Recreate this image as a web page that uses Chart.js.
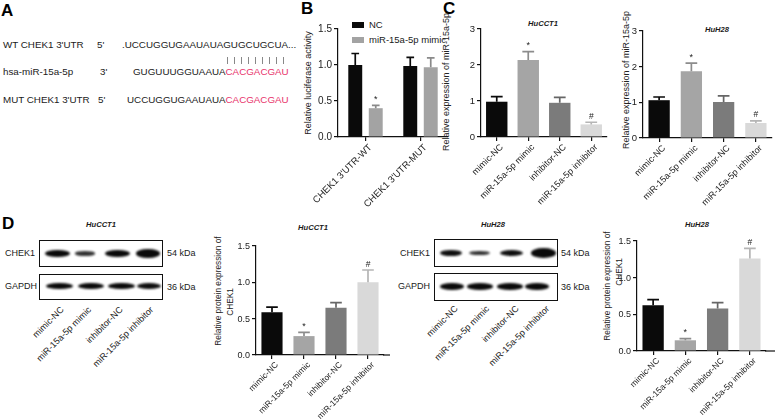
<!DOCTYPE html>
<html><head><meta charset="utf-8">
<script src="https://cdn.jsdelivr.net/npm/chart.js@4.4.1/dist/chart.umd.min.js"></script>
<style>
html,body{margin:0;padding:0;background:#fff;}
body{width:780px;height:420px;position:relative;overflow:hidden;font-family:"Liberation Sans",Arial,Helvetica,sans-serif;color:#1a1a1a;}
.t{position:absolute;white-space:nowrap;line-height:1;}
.a{font-size:9.8px;}
.panel{font-weight:bold;font-size:17px;color:#000;}
.ttl{font-weight:bold;font-style:italic;font-size:7.6px;transform:translateX(-50%);}
.cv{position:absolute;}
.cv canvas{display:block;}
.red{color:#e8336b;}
.box{position:absolute;border:1.5px solid #111;box-sizing:border-box;background:#fff;}
.band{position:absolute;background:#0a0a0a;border-radius:50%;filter:blur(0.8px);}
.lane{position:absolute;font-size:9px;white-space:nowrap;line-height:1;transform-origin:100% 50%;transform:rotate(-45deg);color:#222;}
.vl{position:absolute;width:1px;background:#888;}
.lg{position:absolute;}
.yt{position:absolute;white-space:nowrap;line-height:1;color:#222;transform:translate(-50%,-50%) rotate(-90deg);}
.ytk{position:absolute;z-index:10;white-space:nowrap;line-height:12px;height:12px;width:30px;text-align:right;color:#222;}
</style></head><body>
<script>
// ---------------- DATA ----------------
const lucCategories = ["CHEK1 3'UTR-WT", "CHEK1 3'UTR-MUT"];
const lucSeriesNames = ["NC", "miR-15a-5p mimic"];
const lucNC = [1.00, 0.985];
const lucNCErr = [0.16, 0.12];
const lucMimic = [0.40, 0.97];
const lucMimicErr = [0.04, 0.13];
const lucMimicMarks = ["*", ""];

const groups = ["mimic-NC", "miR-15a-5p mimic", "inhibitor-NC", "miR-15a-5p inhibitor"];
const miRHuCCT1 = [0.98, 2.14, 0.95, 0.35];
const miRHuCCT1Err = [0.14, 0.23, 0.15, 0.06];
const miRHuH28 = [1.06, 1.87, 1.01, 0.42];
const miRHuH28Err = [0.09, 0.23, 0.17, 0.06];
const protHuCCT1 = [0.59, 0.26, 0.65, 1.00];
const protHuCCT1Err = [0.07, 0.05, 0.07, 0.17];
const protHuH28 = [0.625, 0.146, 0.58, 1.26];
const protHuH28Err = [0.075, 0.024, 0.08, 0.14];
const groupMarks = ["", "*", "", "#"];

const ticks15 = [0, 0.5, 1.0, 1.5];
const ticks15Labels = ["0.0", "0.5", "1.0", "1.5"];
const ticks3 = [0, 1, 2, 3];
const ticks3Labels = ["0", "1", "2", "3"];

// relative band strengths of the blots (lane order = groups)
const blotHuCCT1_CHEK1 = [1.0, 0.6, 1.0, 1.15];
const blotHuCCT1_GAPDH = [1.0, 1.0, 1.0, 0.95];
const blotHuH28_CHEK1 = [0.95, 0.62, 0.95, 1.55];
const blotHuH28_GAPDH = [1.0, 1.0, 1.0, 1.0];
</script>

<!-- Panel A -->
<div class="t panel" style="left:1px;top:2px;">A</div>
<div class="t a" style="left:3px;top:40px;">WT CHEK1 3'UTR</div>
<div class="t a" style="left:97px;top:40px;">5'</div>
<div class="t a" style="left:122px;top:40px;">.UCCUGGUGAAUAUAGUGCUGCUA...</div>
<div class="t a" style="left:3px;top:67px;">hsa-miR-15a-5p</div>
<div class="t a" style="left:100px;top:67px;">3'</div>
<div class="t a" style="left:133px;top:67px;">GUGUUUGGUAAUA<span class="red">CACGACGAU</span></div>
<div class="t a" style="left:3px;top:95px;">MUT CHEK1 3'UTR</div>
<div class="t a" style="left:98px;top:95px;">5'</div>
<div class="t a" style="left:127px;top:95px;">UCCUGGUGAAUAUA<span class="red">CACGACGAU</span></div>
<div id="pairs"></div>

<div class="t panel" style="left:301px;top:0px;">B</div>
<div class="t panel" style="left:443px;top:0px;">C</div>
<div class="t panel" style="left:2px;top:215px;">D</div>

<!-- legend B -->
<div class="lg" style="left:352px;top:22px;width:12px;height:6px;background:#0a0a0a;"></div>
<div class="t" style="left:369px;top:20px;font-size:9.5px;">NC</div>
<div class="lg" style="left:352px;top:37px;width:12px;height:6px;background:#a3a3a3;"></div>
<div class="t" style="left:369px;top:35px;font-size:9.5px;">miR-15a-5p mimic</div>

<!-- titles -->
<div class="t ttl" style="left:543px;top:20px;">HuCCT1</div>
<div class="t ttl" style="left:717px;top:26px;">HuH28</div>
<div class="t ttl" style="left:101px;top:221px;">HuCCT1</div>
<div class="t ttl" style="left:313px;top:224px;">HuCCT1</div>
<div class="t ttl" style="left:493px;top:221px;">HuH28</div>
<div class="t ttl" style="left:697px;top:221px;">HuH28</div>

<!-- y-axis titles -->
<div class="yt" style="left:308px;top:83px;font-size:9px;">Relative luciferase activity</div>
<div class="yt" style="left:446px;top:82px;font-size:9px;">Relative expression of miR-15a-5p</div>
<div class="yt" style="left:626px;top:80px;font-size:9px;">Relative expression of miR-15a-5p</div>
<div class="yt" style="left:218px;top:291px;font-size:8.3px;">Relative protein expression of</div>
<div class="yt" style="left:229.5px;top:302px;font-size:8.3px;">CHEK1</div>
<div class="yt" style="left:607px;top:286px;font-size:8.3px;">Relative protein expression of</div>
<div class="yt" style="left:618.5px;top:272px;font-size:8.3px;">CHEK1</div>

<!-- blot labels -->
<div class="t" style="left:5px;top:249px;font-size:9px;">CHEK1</div>
<div class="t" style="left:5px;top:282px;font-size:9px;">GAPDH</div>
<div class="t" style="left:167px;top:249px;font-size:9px;">54 kDa</div>
<div class="t" style="left:167px;top:283px;font-size:9px;">36 kDa</div>
<div class="t" style="right:350px;top:249px;font-size:9px;">CHEK1</div>
<div class="t" style="right:350px;top:282px;font-size:9px;">GAPDH</div>
<div class="t" style="left:561px;top:249px;font-size:9px;">54 kDa</div>
<div class="t" style="left:561px;top:283px;font-size:9px;">36 kDa</div>

<script>
const F = '"Liberation Sans", Arial, Helvetica, sans-serif';

// base-pairing ticks in panel A
(function(){
  const p = document.getElementById('pairs');
  for (let i = 0; i < 9; i++) {
    const d = document.createElement('div');
    d.className = 'vl';
    d.style.left = (226.5 + i * 7.1) + 'px';
    d.style.top = '57px'; d.style.height = '7px';
    p.appendChild(d);
  }
})();

// blots
function blot(boxLeft, boxRight, rows, lanes, anchors, anchorY) {
  rows.forEach(r => {
    const b = document.createElement('div');
    b.className = 'box';
    b.style.left = boxLeft + 'px'; b.style.top = r.top + 'px';
    b.style.width = (boxRight - boxLeft) + 'px'; b.style.height = (r.bottom - r.top) + 'px';
    document.body.appendChild(b);
    r.strength.forEach((s, i) => {
      const w = r.w[i] * Math.min(1.08, 0.78 + 0.22 * s), h = r.h * s;
      const d = document.createElement('div');
      d.className = 'band';
      d.style.left = (r.cx[i] - w / 2) + 'px';
      d.style.top = (r.cy - h / 2) + 'px';
      d.style.width = w + 'px'; d.style.height = h + 'px';
      d.style.opacity = Math.min(1, 0.6 + 0.4 * s);
      document.body.appendChild(d);
    });
  });
  lanes.forEach((txt, i) => {
    const l = document.createElement('div');
    l.className = 'lane';
    l.textContent = txt;
    l.style.right = (780 - anchors[i]) + 'px';
    l.style.top = (anchorY - 4.5) + 'px';
    document.body.appendChild(l);
  });
}
blot(39, 163, [
  {top: 240, bottom: 267, cy: 253.5, h: 7, cx: [57.5, 85, 117.5, 148], w: [25, 22, 25, 23], strength: blotHuCCT1_CHEK1},
  {top: 274, bottom: 300, cy: 286, h: 6.5, cx: [59, 90.5, 121, 149], w: [27, 26, 27, 24], strength: blotHuCCT1_GAPDH}
], groups, [62, 90, 122, 152], 308);
blot(434, 558, [
  {top: 239, bottom: 267, cy: 253, h: 6.5, cx: [451, 479.5, 511.5, 543.5], w: [23, 22, 24, 24], strength: blotHuH28_CHEK1},
  {top: 273, bottom: 301, cy: 286.5, h: 6.5, cx: [451.5, 479.5, 509.5, 536.5], w: [24, 26, 26, 24], strength: blotHuH28_GAPDH}
], groups, [456, 488, 518, 548], 307);

// ---------------- charts ----------------
function makeAxisExt(ext) {
  return {
    id: 'axisExt',
    afterDraw(chart) {
      if (!ext) return;
      const ctx = chart.ctx, a = chart.chartArea;
      ctx.save();
      ctx.strokeStyle = '#111'; ctx.lineWidth = 1.2;
      ctx.beginPath();
      ctx.moveTo(a.right - 1, a.bottom); ctx.lineTo(a.right + ext, a.bottom);
      ctx.stroke();
      ctx.restore();
    }
  };
}
const errBars = {
  id: 'errbars',
  afterDatasetsDraw(chart) {
    const {ctx, scales: {y}} = chart;
    chart.data.datasets.forEach((ds, i) => {
      const meta = chart.getDatasetMeta(i);
      meta.data.forEach((bar, j) => {
        const top = y.getPixelForValue(ds.data[j] + ds.errs[j]);
        const col = Array.isArray(ds.errColor) ? ds.errColor[j] : ds.errColor;
        const w = bar.width * 0.55;
        ctx.save();
        ctx.strokeStyle = col; ctx.lineWidth = 1.7;
        ctx.beginPath();
        ctx.moveTo(bar.x, bar.y); ctx.lineTo(bar.x, top);
        ctx.moveTo(bar.x - w / 2, top); ctx.lineTo(bar.x + w / 2, top);
        ctx.stroke();
        const m = ds.marks && ds.marks[j];
        if (m) {
          ctx.fillStyle = '#222';
          ctx.font = (m === '#' ? '8.5px ' : '9px ') + F;
          ctx.textAlign = 'center'; ctx.textBaseline = 'bottom';
          ctx.fillText(m, bar.x, top - 1.5);
        }
        ctx.restore();
      });
    });
  }
};

const built = [];
function makeChart(s) {
  const cLeft = s.plotLeft - 60;
  const rightPad = Math.max(s.ext + 3, 4);
  const W = Math.round(s.plotRight + rightPad - cLeft);
  const H = s.bottom - s.top;
  const div = document.createElement('div');
  div.className = 'cv';
  div.style.left = cLeft + 'px'; div.style.top = s.top + 'px';
  div.style.width = W + 'px'; div.style.height = H + 'px';
  const cv = document.createElement('canvas');
  cv.width = W; cv.height = H; cv.style.width = W + 'px'; cv.style.height = H + 'px';
  div.appendChild(cv); document.body.appendChild(div);
  const yW = s.plotLeft - cLeft, xH = s.bottom - s.plotBottom;
  const tv = s.ticks;
  const yMax = tv[tv.length - 1];
  let chart = null;
  try {
    chart = new Chart(cv, {
      type: 'bar',
      data: {
        labels: s.labels,
        datasets: s.datasets.map(d => ({
          label: d.label, data: d.values, errs: d.errs, marks: d.marks,
          backgroundColor: d.colors, errColor: d.errColors, borderWidth: 0,
          categoryPercentage: s.cat, barPercentage: s.bar
        }))
      },
      options: {
        responsive: false, animation: false, devicePixelRatio: 1,
        layout: {padding: {left: 0, top: s.plotTop - s.top, right: W - (s.plotRight - cLeft), bottom: 0}},
        plugins: {legend: {display: false}, tooltip: {enabled: false}},
        scales: {
          x: {
            grid: {display: true, drawOnChartArea: false, drawTicks: true, tickLength: 4, offset: false, color: '#111', lineWidth: 1.2},
            border: {display: true, color: '#111', width: 1.2},
            ticks: {font: {size: s.tickSize, family: F}, color: '#222', maxRotation: 45, minRotation: 45, padding: 1, autoSkip: false, labelOffset: 5},
            afterFit: sc => { sc.height = xH; }
          },
          y: {
            min: 0, max: yMax,
            grid: {display: true, drawOnChartArea: false, drawTicks: true, tickLength: 4, color: '#111', lineWidth: 1.2},
            border: {display: true, color: '#111', width: 1.2},
            ticks: {display: false, stepSize: tv[1] - tv[0], autoSkip: false},
            afterFit: sc => { sc.width = yW; }
          }
        }
      },
      plugins: [makeAxisExt(s.ext), errBars]
    });
  } catch (e) {}
  built.push({chart: chart, spec: s});
}

const C_BLACK = '#0a0a0a', C_GRAY = '#a5a5a5', C_DARK = '#7b7b7b', C_LIGHT = '#d9d9d9';
const E_COLORS = ['#0a0a0a', '#8c8c8c', '#666666', '#b5b5b5'];
const grpColors = [C_BLACK, C_GRAY, C_DARK, C_LIGHT];

// B
makeChart({
  tickSize: 9.5, ySize: 10,
  top: 0, bottom: 212, plotLeft: 338, plotRight: 448, plotTop: 29, plotBottom: 137,
  ext: 0, cat: 0.745, bar: 0.68,
  ticks: ticks15, tickLabels: ticks15Labels,
  labels: lucCategories,
  datasets: [
    {label: lucSeriesNames[0], values: lucNC, errs: lucNCErr, marks: null, colors: C_BLACK, errColors: '#0a0a0a'},
    {label: lucSeriesNames[1], values: lucMimic, errs: lucMimicErr, marks: lucMimicMarks, colors: '#a3a3a3', errColors: '#8a8a8a'}
  ]
});
// C HuCCT1
makeChart({
  tickSize: 9, ySize: 9.5,
  top: 0, bottom: 212, plotLeft: 481, plotRight: 607, plotTop: 29, plotBottom: 137,
  ext: 0, cat: 0.68, bar: 1,
  ticks: ticks3, tickLabels: ticks3Labels,
  labels: groups,
  datasets: [{label: 'HuCCT1', values: miRHuCCT1, errs: miRHuCCT1Err, marks: groupMarks, colors: grpColors, errColors: E_COLORS}]
});
// C HuH28
makeChart({
  tickSize: 9, ySize: 9.5,
  top: 0, bottom: 212, plotLeft: 643, plotRight: 772, plotTop: 31, plotBottom: 138,
  ext: 0, cat: 0.66, bar: 1,
  ticks: ticks3, tickLabels: ticks3Labels,
  labels: groups,
  datasets: [{label: 'HuH28', values: miRHuH28, errs: miRHuH28Err, marks: groupMarks, colors: grpColors, errColors: E_COLORS}]
});
// D HuCCT1
makeChart({
  tickSize: 8.5, ySize: 9,
  top: 215, bottom: 420, plotLeft: 256, plotRight: 384, plotTop: 246, plotBottom: 355,
  ext: 6, cat: 0.66, bar: 1,
  ticks: ticks15, tickLabels: ticks15Labels,
  labels: groups,
  datasets: [{label: 'HuCCT1', values: protHuCCT1, errs: protHuCCT1Err, marks: groupMarks, colors: grpColors, errColors: E_COLORS}]
});
// D HuH28
makeChart({
  tickSize: 8.5, ySize: 9,
  top: 215, bottom: 420, plotLeft: 637, plotRight: 766, plotTop: 241, plotBottom: 351,
  ext: 9, cat: 0.66, bar: 1,
  ticks: ticks15, tickLabels: ticks15Labels,
  labels: groups,
  datasets: [{label: 'HuH28', values: protHuH28, errs: protHuH28Err, marks: groupMarks, colors: grpColors, errColors: E_COLORS}]
});

// y tick labels, placed from each chart's own y scale (appended last so they sit on top)
built.forEach(({chart, spec: s}) => {
  const tv = s.ticks, yMax = tv[tv.length - 1];
  let area = null, yScale = null;
  try { area = chart.chartArea; yScale = chart.scales.y; } catch (e) {}
  tv.forEach((v, i) => {
    let py = NaN;
    try { py = yScale.getPixelForValue(v); } catch (e) {}
    if (!isFinite(py) && area && isFinite(area.bottom)) py = area.bottom - (v / yMax) * (area.bottom - area.top);
    if (!isFinite(py)) py = (s.plotBottom - s.top) - (v / yMax) * (s.plotBottom - s.plotTop);
    let axX = NaN;
    try { axX = area.left; } catch (e) {}
    if (!isFinite(axX)) axX = 60;
    const pageRight = (s.plotLeft - 60) + axX - 6;
    const d = document.createElement('div');
    d.className = 'ytk';
    d.textContent = (s.tickLabels && s.tickLabels[i] != null) ? s.tickLabels[i] : String(v);
    d.style.fontSize = s.ySize + 'px';
    d.style.left = (pageRight - 30) + 'px';
    d.style.top = (s.top + py - 6) + 'px';
    document.body.appendChild(d);
  });
});
</script>
</body></html>
